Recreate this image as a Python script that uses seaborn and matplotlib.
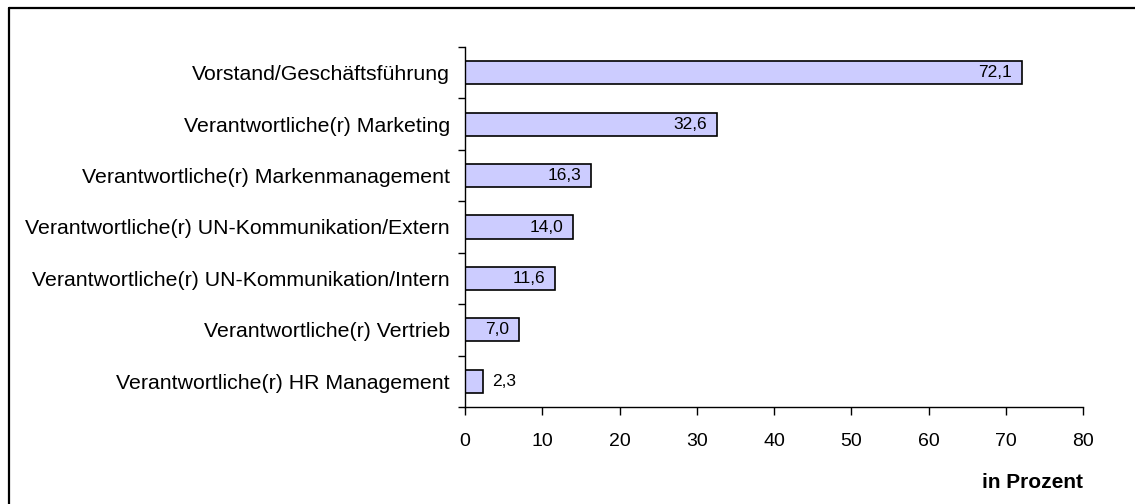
import matplotlib
matplotlib.use("Agg")
import matplotlib.pyplot as plt
from matplotlib.lines import Line2D
from matplotlib.ticker import FixedLocator
import seaborn as sns
import pandas as pd

categories = [
    "Vorstand/Geschäftsführung",
    "Verantwortliche(r) Marketing",
    "Verantwortliche(r) Markenmanagement",
    "Verantwortliche(r) UN-Kommunikation/Extern",
    "Verantwortliche(r) UN-Kommunikation/Intern",
    "Verantwortliche(r) Vertrieb",
    "Verantwortliche(r) HR Management",
]
values = [72.1, 32.6, 16.3, 14.0, 11.6, 7.0, 2.3]
value_labels = ["72,1", "32,6", "16,3", "14,0", "11,6", "7,0", "2,3"]
x_ticks = [0, 10, 20, 30, 40, 50, 60, 70, 80]
x_label = "in Prozent"

sns.set_theme(style="white")
plt.rcParams["font.family"] = ["Liberation Sans", "DejaVu Sans"]
plt.rcParams["text.color"] = "black"
plt.rcParams["xtick.color"] = "black"
plt.rcParams["ytick.color"] = "black"
plt.rcParams["axes.labelcolor"] = "black"

W, H = 1135, 504
fig = plt.figure(figsize=(W / 100, H / 100), dpi=100)
ax = fig.add_axes([465 / W, 1 - 407 / H, (1083 - 465) / W, (407 - 47) / H])

df = pd.DataFrame({"cat": categories, "val": values})
sns.barplot(data=df, x="val", y="cat", orient="h", color="#CCCCFF",
            edgecolor="black", linewidth=1.2, width=0.45, saturation=1, ax=ax)
for p in ax.patches:
    p.set_facecolor("#CCCCFF")

ax.set_xlim(0, 80)
ax.set_ylim(len(categories) - 0.5, -0.5)
ax.set_xticks(x_ticks)
ax.set_xticklabels([str(t) for t in x_ticks], fontsize=14)
ax.tick_params(axis="x", direction="out", length=6, width=1, colors="black", pad=13, bottom=True)
ax.tick_params(axis="y", which="major", length=0, pad=11, labelsize=15.3, labelcolor="black")
ax.yaxis.set_minor_locator(FixedLocator([i - 0.5 for i in range(len(categories) + 1)]))
ax.tick_params(axis="y", which="minor", direction="out", length=5, width=1, color="black", left=True)
ax.set_xlabel("")
ax.set_ylabel("")

for s in ["top", "right"]:
    ax.spines[s].set_visible(False)
for s in ["left", "bottom"]:
    ax.spines[s].set_color("black")
    ax.spines[s].set_linewidth(1)

for i, (v, lab) in enumerate(zip(values, value_labels)):
    if v > 5:
        ax.annotate(lab, xy=(v, i), xytext=(-7, 0), textcoords="offset points",
                    ha="right", va="center", fontsize=12.5, color="black")
    else:
        ax.annotate(lab, xy=(v, i), xytext=(7, 0), textcoords="offset points",
                    ha="left", va="center", fontsize=12.5, color="black")

fig.text(1083 / W, 1 - 482 / H, x_label, ha="right", va="center",
         fontsize=15, fontweight="bold", color="black")

# outer frame
fx = 9 / W
fy = 1 - 8 / H
fig.add_artist(Line2D([fx, 1.01], [fy, fy], transform=fig.transFigure, color="black", lw=1.6))
fig.add_artist(Line2D([fx, fx], [-0.01, fy], transform=fig.transFigure, color="black", lw=1.6))

fig.savefig("out.png", dpi=100)
